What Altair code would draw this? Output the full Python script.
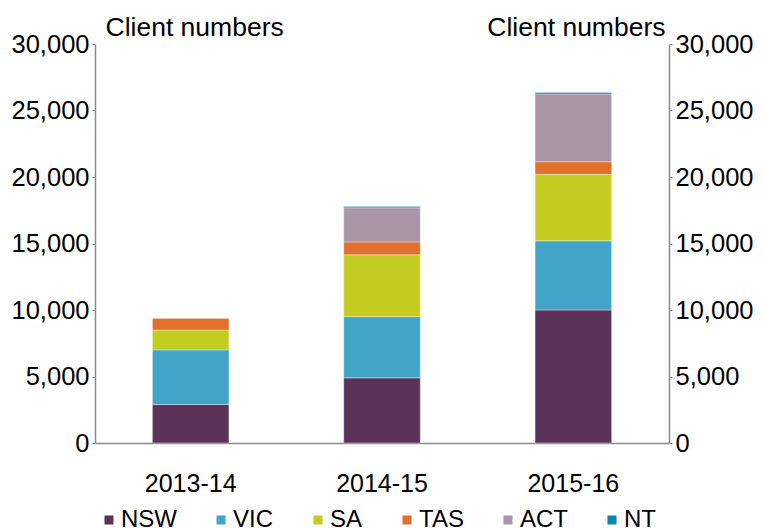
import altair as alt
import pandas as pd

years = ["2013-14", "2014-15", "2015-16"]
states = ["NSW", "VIC", "SA", "TAS", "ACT", "NT"]
colors = ["#5b3358", "#42a4c7", "#c4cb21", "#e0702b", "#a995a6", "#0b83aa"]
nsw = [2900, 4900, 10000]
vic = [4100, 4600, 5200]
sa = [1500, 4650, 5000]
tas = [900, 970, 950]
act = [0, 2560, 5100]
nt = [0, 100, 100]

series = [nsw, vic, sa, tas, act, nt]
rows = []
for si, (st, vals) in enumerate(zip(states, series)):
    for y, v in zip(years, vals):
        rows.append({"year": y, "state": st, "value": v, "order": si})
df = pd.DataFrame(rows)

FONT = "Liberation Sans"
ticks = [0, 5000, 10000, 15000, 20000, 25000, 30000]
GRAY = "#8a8a8a"

x = alt.X("year:N", title=None, sort=years,
          scale=alt.Scale(paddingInner=0.6, paddingOuter=0.3),
          axis=alt.Axis(labelAngle=0, ticks=False, labelPadding=28,
                        labelFontSize=25, labelColor="black",
                        domainColor=GRAY, domainWidth=1.5))
color = alt.Color("state:N", sort=states,
                  scale=alt.Scale(domain=states, range=colors),
                  legend=alt.Legend(title=None, orient="none", direction="horizontal",
                                    legendX=2, legendY=464, columns=6, padding=0,
                                    gridAlign="each", columnPadding=32,
                                    symbolType="square", symbolSize=81,
                                    symbolStrokeWidth=0, labelFontSize=24,
                                    labelColor="black", labelOffset=0))
yscale = alt.Scale(domain=[0, 30000], nice=False)


def yaxis(orient, align, tx):
    return alt.Axis(values=ticks, format=",.0f", grid=False, orient=orient,
                    title="Client numbers", titleAngle=0, titleAlign=align,
                    titleBaseline="alphabetic", titleX=tx, titleY=-9,
                    titleFontSize=26.5, titleFontWeight="normal", titleColor="black",
                    labelFontSize=25.5, labelColor="black",
                    labelPadding=3,
                    tickSize=3, tickColor=GRAY,
                    domainColor=GRAY, domainWidth=1.5)


left = alt.Chart(df).mark_bar(stroke="white", strokeWidth=0.6, strokeOpacity=0.6).encode(
    x=x,
    y=alt.Y("value:Q", stack="zero", scale=yscale, axis=yaxis("left", "left", 10)),
    color=color,
    order=alt.Order("order:Q"),
)

right = alt.Chart(df).mark_bar(opacity=0).encode(
    x=x,
    y=alt.Y("value:Q", stack="zero", scale=yscale, axis=yaxis("right", "right", -4)),
    color=color,
    order=alt.Order("order:Q"),
)

chart = alt.layer(left, right).resolve_axis(y="independent").properties(
    width=574, height=399,
    autosize=alt.AutoSizeParams(type="none"),
    padding={"left": 87, "top": 36, "right": 86, "bottom": 100},
).configure(font=FONT, view=alt.ViewConfig(stroke=None))

chart.save("out.html", embed_options={"renderer": "svg", "actions": False})
